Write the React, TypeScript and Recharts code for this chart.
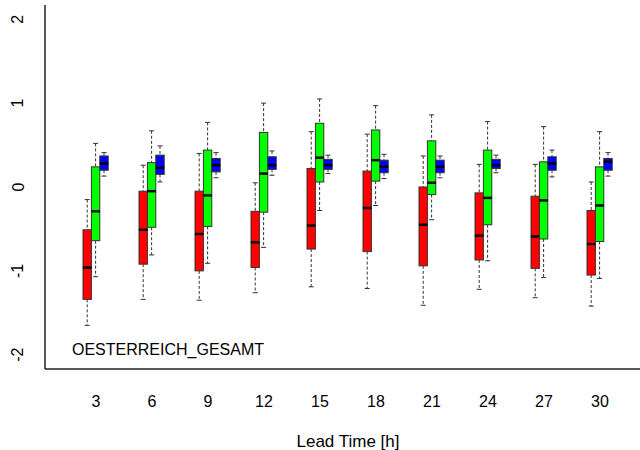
import React from "react";
import { ComposedChart, Bar, XAxis, YAxis, ReferenceLine, Customized } from "recharts";

// lead times (h)
const leadTimes = ["3", "6", "9", "12", "15", "18", "21", "24", "27", "30"];

// [whisker low, q1, median, q3, whisker high]
const redStats = [
  [-1.65, -1.34, -0.96, -0.51, -0.15],
  [-1.34, -0.92, -0.51, -0.05, 0.26],
  [-1.35, -1.0, -0.56, -0.05, 0.4],
  [-1.26, -0.96, -0.66, -0.29, 0.05],
  [-1.19, -0.74, -0.46, 0.22, 0.66],
  [-1.21, -0.77, -0.25, 0.19, 0.63],
  [-1.41, -0.94, -0.45, 0.0, 0.37],
  [-1.22, -0.87, -0.58, -0.07, 0.27],
  [-1.32, -0.97, -0.59, -0.11, 0.27],
  [-1.42, -1.05, -0.68, -0.28, 0.06],
];
const greenStats = [
  [-1.07, -0.64, -0.29, 0.24, 0.52],
  [-0.81, -0.48, -0.05, 0.29, 0.67],
  [-0.91, -0.47, -0.1, 0.44, 0.77],
  [-0.72, -0.3, 0.16, 0.65, 1.0],
  [-0.28, 0.06, 0.35, 0.76, 1.05],
  [-0.22, 0.07, 0.32, 0.68, 0.97],
  [-0.39, -0.09, 0.05, 0.55, 0.86],
  [-0.88, -0.45, -0.13, 0.44, 0.78],
  [-1.08, -0.62, -0.16, 0.3, 0.72],
  [-1.09, -0.65, -0.22, 0.24, 0.66],
];
const blueStats = [
  [0.13, 0.2, 0.28, 0.37, 0.41],
  [0.06, 0.15, 0.23, 0.38, 0.49],
  [0.11, 0.18, 0.26, 0.34, 0.41],
  [0.14, 0.21, 0.26, 0.36, 0.43],
  [0.16, 0.21, 0.26, 0.33, 0.38],
  [0.1, 0.17, 0.24, 0.32, 0.39],
  [0.11, 0.17, 0.24, 0.32, 0.37],
  [0.17, 0.22, 0.26, 0.33, 0.38],
  [0.12, 0.2, 0.28, 0.36, 0.44],
  [0.13, 0.2, 0.3, 0.34, 0.41],
];
const yTicks = [-2, -1, 0, 1, 2];

const data = leadTimes.map((lead, i) => ({
  lead,
  red: redStats[i],
  green: greenStats[i],
  blue: blueStats[i],
}));

const FONT = "'Liberation Sans', Arial, sans-serif";

//eslint-disable-next-line
function BoxShape(props: any) {
  const { x, y, width, height, stats, color } = props;
  const [lo, q1, med, q3, hi] = stats;
  const top = Math.min(y, y + height);
  const h = Math.abs(height);
  const k = h / (q3 - q1);
  const py = (v: number) => top + (q3 - v) * k;
  const cx = x + width / 2;
  const cap = width * 0.3;
  return (
    <g>
      <line x1={cx} x2={cx} y1={py(hi)} y2={top} stroke="#333" strokeDasharray="3 2" />
      <line x1={cx} x2={cx} y1={top + h} y2={py(lo)} stroke="#333" strokeDasharray="3 2" />
      <line x1={cx - cap} x2={cx + cap} y1={py(hi)} y2={py(hi)} stroke="#333" />
      <line x1={cx - cap} x2={cx + cap} y1={py(lo)} y2={py(lo)} stroke="#333" />
      <rect x={x} y={top} width={width} height={h} fill={color} stroke="#333" strokeWidth={1} />
      <line x1={x} x2={x + width} y1={py(med)} y2={py(med)} stroke="#000" strokeWidth={2.5} />
    </g>
  );
}

//eslint-disable-next-line
const YTick = ({ x, y, payload }: any) => (
  <text
    x={x - 19}
    y={y}
    transform={`rotate(-90, ${x - 19}, ${y})`}
    textAnchor="middle"
    dominantBaseline="central"
    fontSize={16}
    fontFamily={FONT}
    fill="#000"
  >
    {payload.value}
  </text>
);

//eslint-disable-next-line
const XTick = ({ x, y, payload }: any) => (
  <text x={x} y={y + 24} textAnchor="middle" dominantBaseline="central" fontSize={16} fontFamily={FONT} fill="#000">
    {payload.value}
  </text>
);

const StationLabel = () => (
  <text x={72} y={349} dominantBaseline="central" fontSize={16} fontFamily={FONT} fill="#000">
    OESTERREICH_GESAMT
  </text>
);

export default function App() {
  return (
    <div style={{ position: "absolute", left: 0, top: 0, width: 640, height: 450, overflow: "hidden", background: "#fff" }}>
      <ComposedChart
        width={660}
        height={450}
        data={data}
        margin={{ top: 5, right: 9, bottom: 21, left: 0 }}
        barGap={0}
        barSize={8.4}
      >
        <XAxis
          dataKey="lead"
          padding={{ left: 23, right: 23 }}
          height={60}
          tickLine={false}
          axisLine={{ stroke: "#222", strokeWidth: 1.5 }}
          tick={<XTick />}
          interval={0}
          label={{
            //eslint-disable-next-line
            content: ({ viewBox }: any) => (
              <text
                x={viewBox.x + viewBox.width / 2}
                y={viewBox.y + 72}
                textAnchor="middle"
                dominantBaseline="central"
                fontSize={17}
                fontFamily={FONT}
                fill="#000"
              >
                Lead Time [h]
              </text>
            ),
          }}
        />
        <XAxis
          xAxisId="top"
          dataKey="lead"
          orientation="top"
          height={0}
          tick={false}
          tickLine={false}
          axisLine={{ stroke: "#222", strokeWidth: 1.5 }}
        />
        <XAxis xAxisId="n" type="number" domain={[0.5, 10.5]} padding={{ left: 23, right: 23 }} hide />
        <YAxis
          type="number"
          domain={[-2.17, 2.17]}
          ticks={yTicks}
          width={45}
          tickLine={false}
          axisLine={{ stroke: "#222", strokeWidth: 1.5 }}
          tick={<YTick />}
          allowDataOverflow
        />
        <ReferenceLine
          xAxisId="n"
          segment={[
            { x: 0.5, y: 0 },
            { x: 10.5, y: 0 },
          ]}
          stroke="#a0a0a0"
          strokeWidth={2}
        />
        <Bar
          dataKey={(d) => [d.red[1], d.red[3]]}
          isAnimationActive={false}
          shape={(p: any) => <BoxShape {...p} stats={p.payload.red} color="#ff0000" />}
        />
        <Bar
          dataKey={(d) => [d.green[1], d.green[3]]}
          isAnimationActive={false}
          shape={(p: any) => <BoxShape {...p} stats={p.payload.green} color="#00ff00" />}
        />
        <Bar
          dataKey={(d) => [d.blue[1], d.blue[3]]}
          isAnimationActive={false}
          shape={(p: any) => <BoxShape {...p} stats={p.payload.blue} color="#0000ff" />}
        />
        <Customized component={<StationLabel />} />
      </ComposedChart>
    </div>
  );
}
